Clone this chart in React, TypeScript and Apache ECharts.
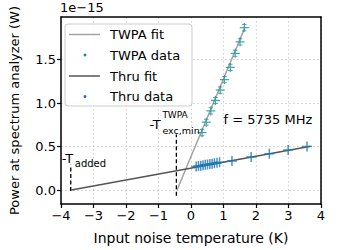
import React, { useEffect, useRef } from "react";
import * as echarts from "echarts";

// ---- data (y in units of 1e-15 W) ----
const twpaDataX = [0.34, 0.47, 0.61, 0.75, 0.9, 1.03, 1.21, 1.36, 1.51, 1.64];
const twpaDataY = [0.66, 0.78, 0.91, 1.03, 1.15, 1.27, 1.41, 1.573, 1.705, 1.868];
const twpaFitX = [-0.43, 1.66];
const twpaFitY = [0.0, 1.87];

const thruDataX = [0.16, 0.23, 0.3, 0.37, 0.44, 0.51, 0.58, 0.65, 0.72, 0.8, 0.88, 1.26, 1.85, 2.41, 2.99, 3.57];
const thruDataY = [0.272, 0.277, 0.281, 0.286, 0.29, 0.295, 0.3, 0.304, 0.309, 0.314, 0.32, 0.334, 0.38, 0.417, 0.462, 0.5];
const thruFitX = [-3.68, 3.68];
const thruFitY = [0.0, 0.505];

const tAddedX = -3.7;
const tAddedY = [-0.01, 0.29];
const tExcX = -0.45;
const tExcY = [-0.064, 0.64];

const xTicks = [-4, -3, -2, -1, 0, 1, 2, 3, 4];
const yTicks = [0, 0.5, 1.0, 1.5];
const legendNames = ["TWPA fit", "TWPA data", "Thru fit", "Thru data"];

const FONT = "DejaVu Sans";
const TEAL = "#1a9492";
const BLUE = "#1f77b4";
const GRAYFIT = "#a3a3a3";
const DARKFIT = "#555555";

const zip = (xs: number[], ys: number[]) => xs.map((x, i) => [x, ys[i]]);

const capPlus = "path://M4.3,0H5.7V10H4.3Z M0,4.3H10V5.7H0Z M2.5,1H7.5V2.1H2.5Z M2.5,7.9H7.5V9H2.5Z";
const plainPlus = "path://M4.25,0H5.75V10H4.25Z M0,4.25H10V5.75H0Z";

export default function App() {
  const ref = useRef<HTMLDivElement>(null);
  useEffect(() => {
    const chart = echarts.init(ref.current!, null, { renderer: "svg", width: 338, height: 250 });
    const fmtX = (v: number) => (v < 0 ? "\u2212" + Math.abs(v) : String(v));
    chart.setOption({
      animation: false,
      grid: { left: 59.5, right: 17, top: 17, bottom: 44, containLabel: false },
      xAxis: [
        {
          type: "value",
          min: xTicks[0],
          max: xTicks[xTicks.length - 1],
          interval: 1,
          axisLine: { show: true, onZero: false, lineStyle: { color: "#000", width: 1.5 } },
          axisTick: { show: true, inside: false, length: 4, lineStyle: { color: "#000", width: 1.2 } },
          axisLabel: { color: "#000", fontSize: 13, fontFamily: FONT, margin: 5, formatter: fmtX },
          splitLine: { show: true, lineStyle: { color: "#cfcfcf", width: 1, type: [1.5, 2.5] } },
          name: "Input noise temperature (K)",
          nameLocation: "middle",
          nameGap: 27,
          nameTextStyle: { color: "#000", fontSize: 14, fontFamily: FONT },
        },
        {
          type: "value",
          position: "top",
          min: xTicks[0],
          max: xTicks[xTicks.length - 1],
          axisLine: { show: true, onZero: false, lineStyle: { color: "#000", width: 1.5 } },
          axisTick: { show: false },
          axisLabel: { show: false },
          splitLine: { show: false },
        },
      ],
      yAxis: [
        {
          type: "value",
          min: -0.16,
          max: 1.99,
          axisLine: { show: true, onZero: false, lineStyle: { color: "#000", width: 1.5 } },
          axisTick: { show: true, inside: false, length: 4, customValues: yTicks, lineStyle: { color: "#000", width: 1.2 } },
          axisLabel: {
            color: "#000",
            fontSize: 13,
            fontFamily: FONT,
            margin: 5,
            customValues: yTicks,
            formatter: (v: number) => v.toFixed(1),
          },
          splitLine: { show: true, lineStyle: { color: "#cfcfcf", width: 1, type: [1.5, 2.5] } },
          name: "Power at spectrum analyzer (W)",
          nameLocation: "middle",
          nameGap: 40,
          nameTextStyle: { color: "#000", fontSize: 13, fontFamily: FONT },
        },
        {
          type: "value",
          position: "right",
          min: -0.16,
          max: 1.99,
          axisLine: { show: true, onZero: false, lineStyle: { color: "#000", width: 1.5 } },
          axisTick: { show: false },
          axisLabel: { show: false },
          splitLine: { show: false },
        },
      ],
      series: [
        {
          name: legendNames[0],
          type: "line",
          data: zip(twpaFitX, twpaFitY),
          symbol: "none",
          lineStyle: { color: GRAYFIT, width: 1.5 },
          z: 2,
        },
        {
          name: legendNames[1],
          type: "scatter",
          data: zip(twpaDataX, twpaDataY),
          symbol: capPlus,
          symbolSize: 9,
          itemStyle: { color: TEAL },
          z: 4,
        },
        {
          name: legendNames[2],
          type: "line",
          data: zip(thruFitX, thruFitY),
          symbol: "none",
          lineStyle: { color: DARKFIT, width: 1.5 },
          z: 3,
        },
        {
          name: legendNames[3],
          type: "scatter",
          data: zip(thruDataX, thruDataY),
          symbol: plainPlus,
          symbolSize: 10,
          itemStyle: { color: BLUE },
          z: 4,
        },
        {
          name: "tadded",
          type: "line",
          data: [[tAddedX, tAddedY[0]], [tAddedX, tAddedY[1]]],
          symbol: "none",
          lineStyle: { color: "#000", width: 1.3, type: [4, 2.5] },
          z: 3,
        },
        {
          name: "texc",
          type: "line",
          data: [[tExcX, tExcY[0]], [tExcX, tExcY[1]]],
          symbol: "none",
          lineStyle: { color: "#000", width: 1.3, type: [4, 2.5] },
          z: 3,
        },
      ],
    });

    const px = (x: number, y: number) => chart.convertToPixel({ xAxisIndex: 0, yAxisIndex: 0 }, [x, y]) as number[];
    const gl = chart.convertToPixel({ xAxisIndex: 0 }, -4) as number;
    const gt = chart.convertToPixel({ yAxisIndex: 0 }, 1.99) as number;
    const txt = (x: number, y: number, text: string, size: number, extra: any = {}) => ({
      type: "text",
      x,
      y,
      style: { text, fill: "#000", fontSize: size, fontFamily: FONT, verticalAlign: "middle", ...extra },
      z: 50,
    });

    const a1 = px(tAddedX, tAddedY[1]);
    const a2 = px(tExcX, tExcY[1]);
    const f = px(1.0, 0.81);

    const lx = 65, ly = 24;
    const rows = [34.5, 55, 76, 96.5].map((r) => r - ly);
    chart.setOption({
      graphic: [
        txt(gl - 1, gt - 10, "1e\u221215", 13),
        {
          type: "group",
          x: lx,
          y: ly,
          z: 40,
          children: [
            { type: "rect", shape: { x: 0, y: 0, width: 127, height: 82, r: 3 }, style: { fill: "rgba(255,255,255,0.85)", stroke: "#cccccc", lineWidth: 1 }, z: 40 },
            { type: "line", shape: { x1: 4, y1: rows[0], x2: 35, y2: rows[0] }, style: { stroke: GRAYFIT, lineWidth: 1.5 }, z: 41 },
            { type: "circle", shape: { cx: 20, cy: rows[1], r: 1.5 }, style: { fill: TEAL }, z: 41 },
            { type: "line", shape: { x1: 4, y1: rows[2], x2: 35, y2: rows[2] }, style: { stroke: DARKFIT, lineWidth: 1.5 }, z: 41 },
            { type: "circle", shape: { cx: 20, cy: rows[3], r: 1.5 }, style: { fill: BLUE }, z: 41 },
            ...legendNames.map((n, i) => ({
              type: "text",
              x: 45,
              y: rows[i],
              style: { text: n, fill: "#000", fontSize: 13, fontFamily: FONT, verticalAlign: "middle" },
              z: 41,
            })),
          ],
        },
        // -T_added
        txt(a1[0] - 9, a1[1] - 6, "-T", 13),
        txt(a1[0] + 4, a1[1] - 1, "added", 10),
        // -T_exc,min^TWPA
        txt(a2[0] - 27, a2[1] - 10, "-T", 13),
        txt(a2[0] - 14, a2[1] - 19, "TWPA", 9),
        txt(a2[0] - 14, a2[1] - 4, "exc,min", 9.5),
        // frequency
        txt(f[0], f[1], "f = 5735 MHz", 13),
      ],
    });
    return () => chart.dispose();
  }, []);
  return <div ref={ref} style={{ position: "absolute", left: 0, top: 0, width: 338, height: 250 }} />;
}
